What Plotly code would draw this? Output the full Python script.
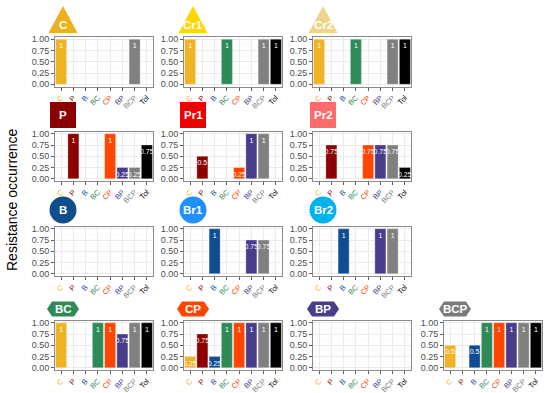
import plotly.graph_objects as go

W, H = 550, 393

categories = ["C", "P", "B", "BC", "CP", "BP", "BCP", "Tol"]
cat_colors = ["#F0B323", "#8B0000", "#0F4D92", "#2E8B57", "#FF4500", "#483D8B", "#808080", "#000000"]

panel_names = ["C", "Cr1", "Cr2", "P", "Pr1", "Pr2", "B", "Br1", "Br2", "BC", "CP", "BP", "BCP"]

# values per panel in category order (None = absent)
vals_C   = [1, None, None, None, None, None, 1, None]
vals_Cr1 = [1, None, None, 1, None, None, 1, 1]
vals_Cr2 = [1, None, None, 1, None, None, 1, 1]
vals_P   = [None, 1, None, None, 1, 0.25, 0.25, 0.75]
vals_Pr1 = [None, 0.5, None, None, 0.25, 1, 1, None]
vals_Pr2 = [None, 0.75, None, None, 0.75, 0.75, 0.75, 0.25]
vals_B   = [None, None, None, None, None, None, None, None]
vals_Br1 = [None, None, 1, None, None, 0.75, 0.75, None]
vals_Br2 = [None, None, 1, None, None, 1, 1, None]
vals_BC  = [1, None, None, 1, 1, 0.75, 1, 1]
vals_CP  = [0.25, 0.75, 0.25, 1, 1, 1, 1, 1]
vals_BP  = [None, None, None, None, None, None, None, None]
vals_BCP = [0.5, None, 0.5, 1, 1, 1, 1, 1]

panel_values = [vals_C, vals_Cr1, vals_Cr2, vals_P, vals_Pr1, vals_Pr2,
                vals_B, vals_Br1, vals_Br2, vals_BC, vals_CP, vals_BP, vals_BCP]

header_shapes = ["triangle"] * 3 + ["square"] * 3 + ["circle"] * 3 + ["hexagon"] * 4
header_colors = ["#EDB120", "#FFD700", "#EED58A",
                 "#8B0000", "#EE0000", "#FF6A6A",
                 "#104E8B", "#1E90FF", "#00B2EE",
                 "#2E8B57", "#FF4500", "#483D8B", "#7A7A7A"]

y_ticks = [0, 0.25, 0.5, 0.75, 1.0]
y_title = "Resistance occurrence"

# ---- layout geometry (pixels) ----
col_left = [55, 184, 313, 444]
col_hdr = [63, 193, 323, 455]
panel_w = 98
row_top = [37, 131.5, 226.5, 320.5]
row_hdr = [20, 115, 210, 309]
panel_h = 49.5

def px(x):
    return x / W

def py(y):
    return 1 - y / H

positions = []
for r in range(3):
    for c in range(3):
        positions.append((r, c))
for c in range(4):
    positions.append((3, c))

fig = go.Figure()
layout = {}
shapes = []
annotations = []

ticktext = [f"<span style='color:{col}'>{cat}</span>" for cat, col in zip(categories, cat_colors)]

for i, (name, vals, (r, c)) in enumerate(zip(panel_names, panel_values, positions)):
    k = "" if i == 0 else str(i + 1)
    xa, ya = "x" + k, "y" + k
    x0 = col_left[c]
    y0 = row_top[r]
    xs = [j for j, v in enumerate(vals) if v is not None]
    ys = [v for v in vals if v is not None]
    cols = [cat_colors[j] for j, v in enumerate(vals) if v is not None]
    fig.add_trace(go.Bar(
        x=xs, y=ys, marker=dict(color=cols, line=dict(color="rgba(255,255,255,0.5)", width=0.6)),
        width=0.9, text=[f"{v:g}" for v in ys], textposition="inside",
        insidetextanchor="end", textangle=0, constraintext="none",
        textfont=dict(size=7, color="white", family="Liberation Sans, Arial"),
        xaxis=xa, yaxis=ya, showlegend=False, cliponaxis=False, hoverinfo="skip",
    ))
    layout["xaxis" + k] = dict(
        domain=[px(x0), px(x0 + panel_w)], anchor=ya, range=[-0.5, 7.5],
        tickvals=list(range(8)), ticktext=ticktext, tickangle=-45,
        tickfont=dict(size=7.5, family="Liberation Sans, Arial"),
        ticks="outside", ticklen=3, tickcolor="#333333", tickwidth=0.8,
        showgrid=True, gridcolor="#EBEBEB", gridwidth=1,
        showline=True, mirror=True, linecolor="#8A8A8A", linewidth=1,
        zeroline=False, fixedrange=True, automargin=False,
    )
    layout["yaxis" + k] = dict(
        domain=[py(y0 + panel_h), py(y0)], anchor=xa, range=[-0.05, 1.05],
        tickvals=y_ticks, tickformat=".2f",
        tickfont=dict(size=9, color="#4D4D4D", family="Liberation Sans, Arial"),
        ticks="outside", ticklen=3, tickcolor="#333333", tickwidth=0.8,
        showgrid=True, gridcolor="#EBEBEB", gridwidth=1,
        minor=dict(tickvals=[0.125, 0.375, 0.625, 0.875], showgrid=True,
                   gridcolor="#F5F5F5", gridwidth=0.5),
        showline=True, mirror=True, linecolor="#8A8A8A", linewidth=1,
        zeroline=False, fixedrange=True, automargin=False,
    )

    # header shape
    cx, cy = col_hdr[c], row_hdr[r]
    shp = header_shapes[i]
    colr = header_colors[i]
    ty = cy
    if shp == "triangle":
        pts = [(cx, 6), (cx - 14.5, 33), (cx + 14.5, 33)]
        path = "M " + " L ".join(f"{px(a)},{py(b)}" for a, b in pts) + " Z"
        shapes.append(dict(type="path", path=path, xref="paper", yref="paper",
                           fillcolor=colr, line=dict(width=0)))
        ty = 25
    elif shp == "square":
        shapes.append(dict(type="rect", xref="paper", yref="paper",
                           x0=px(cx - 13), x1=px(cx + 13), y0=py(cy + 13), y1=py(cy - 13),
                           fillcolor=colr, line=dict(width=0)))
    elif shp == "circle":
        shapes.append(dict(type="circle", xref="paper", yref="paper",
                           x0=px(cx - 13.5), x1=px(cx + 13.5), y0=py(cy + 13.5), y1=py(cy - 13.5),
                           fillcolor=colr, line=dict(width=0)))
    else:
        pts = [(cx - 16, cy), (cx - 11, cy - 7.5), (cx + 11, cy - 7.5), (cx + 16, cy),
               (cx + 11, cy + 7.5), (cx - 11, cy + 7.5)]
        path = "M " + " L ".join(f"{px(a)},{py(b)}" for a, b in pts) + " Z"
        shapes.append(dict(type="path", path=path, xref="paper", yref="paper",
                           fillcolor=colr, line=dict(width=0)))
    annotations.append(dict(text=f"<b>{name}</b>", x=px(cx), y=py(ty), xref="paper", yref="paper",
                            showarrow=False, xanchor="center", yanchor="middle",
                            font=dict(size=11.5, color="white", family="Liberation Sans, Arial")))

annotations.append(dict(text=y_title, x=px(12), y=py(200), xref="paper", yref="paper",
                        showarrow=False, textangle=-90, xanchor="center", yanchor="middle",
                        font=dict(size=14, color="black", family="Liberation Sans, Arial")))

fig.update_layout(
    width=W, height=H, margin=dict(l=0, r=0, t=0, b=0, pad=0, autoexpand=False),
    paper_bgcolor="white", plot_bgcolor="white",
    font=dict(family="Liberation Sans, Arial"),
    shapes=shapes, annotations=annotations, bargap=0.1, hovermode=False,
)
fig.update_layout(**layout)

fig.write_html(
    "out.html",
    config={"displayModeBar": False, "staticPlot": True},
    post_script="document.body.style.margin='0';document.body.style.overflow='hidden';",
)
